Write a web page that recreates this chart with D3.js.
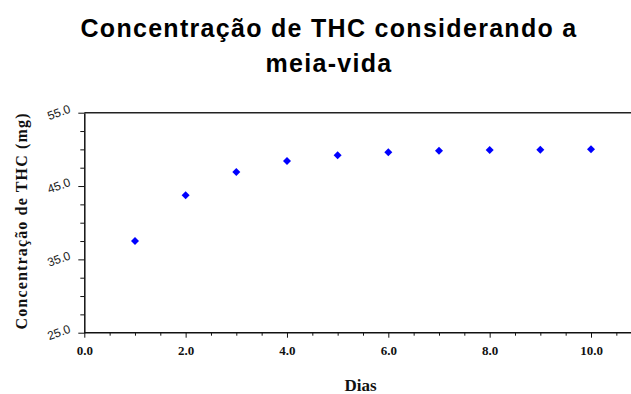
<!DOCTYPE html>
<html>
<head>
<meta charset="utf-8">
<script src="https://cdn.jsdelivr.net/npm/d3@7"></script>
<style>
  body { margin: 0; background: #fff; }
  svg { display: block; }
</style>
</head>
<body>
<div id="chart"></div>
<script>
// dias (x) e concentração de THC em mg (y)
const dias = [1, 2, 3, 4, 5, 6, 7, 8, 9, 10];
const concentracao = [37.5, 43.75, 46.9, 48.4, 49.2, 49.6, 49.8, 49.9, 49.95, 50.0];
const xTicks = d3.range(0, 10.51, 0.5);
const yTicks = d3.range(25, 55.01, 2.5);
const titleLines = ['Concentração de THC considerando a', 'meia-vida'];

const width = 631, height = 394;
const svg = d3.select('#chart').append('svg')
  .attr('width', width)
  .attr('height', height);

const x = d3.scaleLinear().domain([0, 10.8]).range([84.3, 84.3 + 10.8 * 50.67]);
const y = d3.scaleLinear().domain([25, 55]).range([332.7, 112.7]);

// title
svg.append('text')
  .attr('x', 330)
  .attr('y', 37)
  .attr('text-anchor', 'middle')
  .style('font-family', '"Liberation Sans", Arial, sans-serif')
  .style('font-weight', 'bold')
  .style('font-size', '25px')
  .style('letter-spacing', '1.3px')
  .selectAll('tspan')
  .data(titleLines)
  .enter()
  .append('tspan')
  .attr('x', 329)
  .attr('dy', (d, i) => (i === 0 ? 0 : 35))
  .text((d) => d);

// top frame line
svg.append('line')
  .attr('x1', x(0)).attr('x2', width)
  .attr('y1', y(55)).attr('y2', y(55))
  .attr('stroke', '#222').attr('stroke-width', 1.5);

// x axis
const xAxis = svg.append('g')
  .attr('transform', `translate(0,${y(25)})`)
  .call(d3.axisBottom(x)
    .tickValues(xTicks)
    .tickSizeOuter(0)
    .tickFormat((d) => (d % 2 === 0 ? d.toFixed(1) : '')));
xAxis.select('.domain').attr('d', `M${x(0)},0H${width}`).attr('stroke', '#111').attr('stroke-width', 1.5);
xAxis.selectAll('.tick line')
  .attr('y2', (d) => (d % 2 === 0 ? 5 : 3))
  .attr('stroke', '#111');
xAxis.selectAll('.tick text')
  .attr('y', 13)
  .attr('dy', '0.71em')
  .style('font-family', '"Liberation Serif", "Times New Roman", serif')
  .style('font-weight', 'bold')
  .style('font-size', '13px')
  .attr('fill', '#111');

// y axis
const yAxis = svg.append('g')
  .attr('transform', `translate(${x(0)},0)`)
  .call(d3.axisLeft(y)
    .tickValues(yTicks)
    .tickSizeOuter(0)
    .tickFormat((d) => ((d - 25) % 10 === 0 ? d.toFixed(1) : '')));
yAxis.select('.domain').attr('stroke', '#111').attr('stroke-width', 1.5);
yAxis.selectAll('.tick line')
  .attr('x2', (d) => ((d - 25) % 10 === 0 ? -6 : -4))
  .attr('stroke', '#111');
yAxis.selectAll('.tick text')
  .attr('x', 0)
  .attr('dy', 0)
  .attr('transform', 'translate(-13,-1) rotate(-20)')
  .attr('text-anchor', 'end')
  .style('font-family', '"Liberation Sans", Arial, sans-serif')
  .style('font-size', '12px')
  .attr('fill', '#222');

// axis titles
svg.append('text')
  .attr('x', (x(0) + width) / 2 + 3)
  .attr('y', 391)
  .attr('text-anchor', 'middle')
  .style('font-family', '"Liberation Serif", "Times New Roman", serif')
  .style('font-weight', 'bold')
  .style('font-size', '17px')
  .attr('fill', '#111')
  .text('Dias');

svg.append('text')
  .attr('transform', `translate(27,${(113 + 330) / 2}) rotate(-90)`)
  .attr('text-anchor', 'middle')
  .attr('textLength', 216)
  .attr('lengthAdjust', 'spacing')
  .style('font-family', '"Liberation Serif", "Times New Roman", serif')
  .style('font-weight', 'bold')
  .style('font-size', '16px')
  .attr('fill', '#111')
  .text('Concentração de THC (mg)');

// points
const diamond = d3.symbol().type(d3.symbolSquare).size(32);
svg.selectAll('.pt')
  .data(dias.map((d, i) => ({ dia: d, valor: concentracao[i] })))
  .enter()
  .append('path')
  .attr('class', 'pt')
  .attr('d', diamond)
  .attr('transform', (d) => `translate(${x(d.dia)},${y(d.valor)}) rotate(45)`)
  .attr('fill', '#0000ff');
</script>
</body>
</html>
